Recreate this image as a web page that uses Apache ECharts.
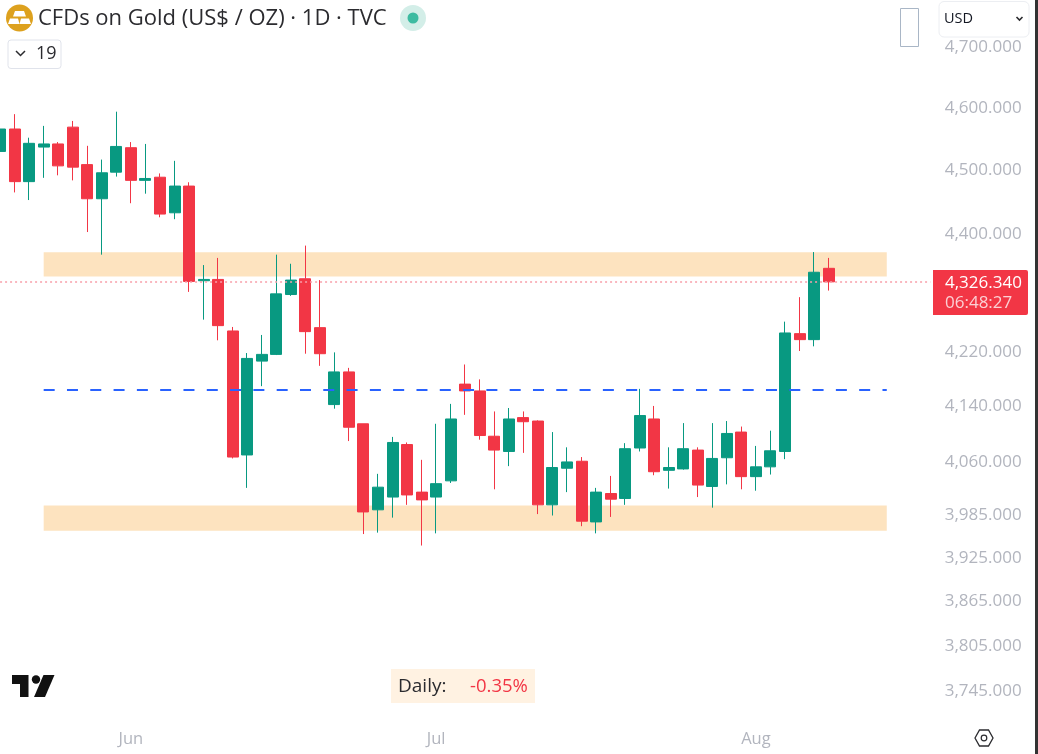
<!DOCTYPE html>
<html>
<head>
<meta charset="utf-8">
<style>html,body{margin:0;padding:0;background:#fff}#c{width:1038px;height:754px}</style>
<script src="https://cdn.jsdelivr.net/npm/echarts@6/dist/echarts.min.js"></script>
</head>
<body>
<div id="c"></div>
<script>
// [open, close, low, high]
const candles = [
[4530,4566,4480,4584],[4566,4482,4465,4590],[4482,4543,4453,4552],[4537,4542,4488,4571],
[4542,4507,4492,4545],[4569,4505,4484,4579],[4509,4455,4403,4539],[4455,4496,4368,4517],
[4497,4538,4490,4594],[4536,4484,4448,4545],[4484,4487,4463,4542],[4489,4431,4426,4495],
[4433,4475,4423,4515],[4475,4327,4311,4481],[4328,4330,4269,4352],[4330,4260,4238,4363],
[4252,4067,4065,4258],[4070,4211,4023,4219],[4207,4217,4170,4246],[4217,4308,4216,4368],
[4307,4329,4305,4354],[4331,4251,4218,4382],[4257,4218,4200,4329],[4143,4191,4137,4220],
[4191,4110,4090,4197],[4115,3989,3958,4115],[3992,4024,3960,4043],[4010,4088,3981,4096],
[4085,4013,3999,4088],[4017,4006,3942,4063],[4010,4029,3959,4115],[4033,4122,4030,4144],
[4173,4163,4128,4202],[4163,4098,4092,4180],[4097,4077,4021,4133],[4075,4122,4054,4138],
[4124,4118,4073,4133],[4119,3999,3986,4120],[3999,4052,3984,4103],[4051,4060,4017,4081],
[4061,3976,3969,4067],[3975,4017,3959,4023],[4015,4007,3982,4040],[4008,4079,3999,4087],
[4080,4127,4075,4166],[4122,4046,4041,4141],[4048,4052,4022,4081],[4050,4079,4049,4116],
[4077,4027,4010,4081],[4025,4065,3995,4116],[4066,4101,4028,4119],[4103,4039,4021,4111],
[4039,4053,4019,4083],[4053,4076,4042,4105],[4075,4249,4064,4266],[4248,4239,4222,4303],
[4239,4341,4229,4372],[4347,4326.34,4313,4363]
];
const monthLabels = {9:'Jun',30:'Jul',52:'Aug'};
const totalBars = 65;
const categories = Array.from({length: totalBars}, (_, i) => monthLabels[i] || '');
const priceTicks = [4700,4600,4500,4400,4220,4140,4060,3985,3925,3865,3805,3745];
const lastPrice = 4326.34;
const midLevel = 4164.6;
const upperZone = [4334.4,4371.8];
const lowerZone = [3962.6,3998];
const zoneBars = [3,61];

const FONT = '"Open Sans"';
const UP = '#089981', DOWN = '#f23645';
const chart = echarts.init(document.getElementById('c'), null, {renderer:'canvas'});
const fmt = v => v.toLocaleString('en-US',{minimumFractionDigits:3,maximumFractionDigits:3});

chart.setOption({
  animation:false,
  backgroundColor:'#fff',
  title:{text:'CFDs on Gold (US$ / OZ) · 1D · TVC',left:33,top:3,
    textStyle:{fontFamily:FONT,fontSize:22,fontWeight:'normal',color:'#2b2b2f'}},
  grid:{left:-7.2,top:0,width:944.84,height:720,containLabel:false,outerBoundsMode:'none'},
  xAxis:{type:'category',data:categories,boundaryGap:true,
    axisLine:{show:false},axisTick:{show:false},splitLine:{show:false},
    axisLabel:{show:true,interval:0,hideOverlap:false,margin:11,fontFamily:FONT,fontSize:16.5,color:'#b2b5be'}},
  yAxis:{type:'log',logBase:10,position:'right',min:3706.7,max:4778.6,
    axisLine:{show:false},axisTick:{show:false},splitLine:{show:false},minorSplitLine:{show:false},
    axisLabel:{show:true,customValues:priceTicks,align:'right',margin:84,fontFamily:FONT,fontSize:17,color:'#b2b5be',
      padding:[5,0,0,0],formatter:v=>fmt(v)}},
  series:[{
    type:'candlestick',data:candles,barWidth:11.5,clip:true,
    itemStyle:{color:UP,color0:DOWN,borderColor:UP,borderColor0:DOWN,borderWidth:1},
    markArea:{silent:true,itemStyle:{color:'#fde3bf',opacity:1},z:-1,
      data:[
        [{xAxis:zoneBars[0],yAxis:upperZone[0]},{xAxis:zoneBars[1],yAxis:upperZone[1]}],
        [{xAxis:zoneBars[0],yAxis:lowerZone[0]},{xAxis:zoneBars[1],yAxis:lowerZone[1]}]
      ]},
    markLine:{silent:true,symbol:'none',label:{show:false},animation:false,
      data:[
        [{xAxis:zoneBars[0],yAxis:midLevel,lineStyle:{color:'#2962ff',width:2,type:[11,12.3]}},
         {xAxis:zoneBars[1],yAxis:midLevel}],
        [{xAxis:0,yAxis:lastPrice,lineStyle:{color:'#f8a0aa',width:1.5,type:[2,3]}},
         {xAxis:64,yAxis:lastPrice}]
      ]}
  }],
  graphic:{elements:[
    {type:'circle',shape:{cx:19.5,cy:18,r:13.5},style:{fill:'#dda11e'},z:50},
    {type:'polygon',shape:{points:[[15,11],[24,11],[26,16.5],[13,16.5]]},style:{fill:'#fff'},z:51},
    {type:'polygon',shape:{points:[[10,18.5],[18,18.5],[19.5,24],[8,24]]},style:{fill:'#fff'},z:51},
    {type:'polygon',shape:{points:[[21,18.5],[29,18.5],[31,24],[19.5,24]]},style:{fill:'#fff'},z:51},
    {type:'circle',shape:{cx:413,cy:18,r:13},style:{fill:'#d3eee8'},z:50},
    {type:'circle',shape:{cx:413,cy:18,r:5.5},style:{fill:'#3dbba1'},z:51},
    {type:'rect',shape:{x:8,y:40,width:53,height:28.5,r:3},style:{fill:'#fff',stroke:'#e0e3eb',lineWidth:1},z:50},
    {type:'polyline',shape:{points:[[16,51],[20.5,55.5],[25,51]]},style:{stroke:'#2b2b2f',fill:null,lineWidth:1.5},z:51},
    {type:'text',left:36,top:45,style:{text:'19',font:'18px '+FONT,fill:'#2b2b2f'},z:51},
    {type:'rect',shape:{x:900.5,y:8.5,width:18,height:38},style:{fill:'#fff',stroke:'#a9b6c6',lineWidth:1},z:50},
    {type:'rect',shape:{x:939,y:1.5,width:90,height:35.5,r:5},style:{fill:'#fff',stroke:'#eceef2',lineWidth:1},z:50},
    {type:'text',left:944,top:11,style:{text:'USD',font:'14.5px '+FONT,fill:'#131722'},z:51},
    {type:'polyline',shape:{points:[[1016.5,17],[1019.5,20],[1022.5,17]]},style:{stroke:'#2b2b2f',fill:null,lineWidth:1.6},z:51},
    {type:'rect',shape:{x:933,y:270,width:95,height:45,r:[0,2,2,0]},style:{fill:'#f23645'},z:50},
    {type:'text',left:945,top:275,style:{text:'4,326.340',font:'17px '+FONT,fill:'#fff'},z:51},
    {type:'text',left:945,top:295,style:{text:'06:48:27',font:'17px '+FONT,fill:'#fbd0d4'},z:51},
    {type:'polygon',shape:{points:[[12,675],[28.5,675],[28.5,697],[20,697],[20,684],[12,684]]},style:{fill:'#111'},z:50},
    {type:'circle',shape:{cx:36,cy:679.5,r:4.2},style:{fill:'#111'},z:50},
    {type:'polygon',shape:{points:[[43.5,675],[54.5,675],[45,697],[34,697]]},style:{fill:'#111'},z:50},
    {type:'rect',shape:{x:391,y:669,width:144,height:34},style:{fill:'#fff2e2'},z:50},
    {type:'text',left:398,top:677,style:{text:'Daily:',font:'19px '+FONT,fill:'#2b2b2f'},z:51},
    {type:'text',left:470,top:677,style:{text:'-0.35%',font:'18.5px '+FONT,fill:'#f23645'},z:51},
    {type:'polygon',shape:{points:[[975,738],[979.5,730],[988.5,730],[993,738],[988.5,746],[979.5,746]]},style:{fill:'#fff',stroke:'#2b2b2f',lineWidth:1.3},z:50},
    {type:'circle',shape:{cx:984,cy:738,r:2.8},style:{fill:'#fff',stroke:'#2b2b2f',lineWidth:1.2},z:51},
    {type:'rect',shape:{x:1035,y:0,width:3,height:754},style:{fill:'#333'},z:50}
  ]}
});
</script>
</body>
</html>
